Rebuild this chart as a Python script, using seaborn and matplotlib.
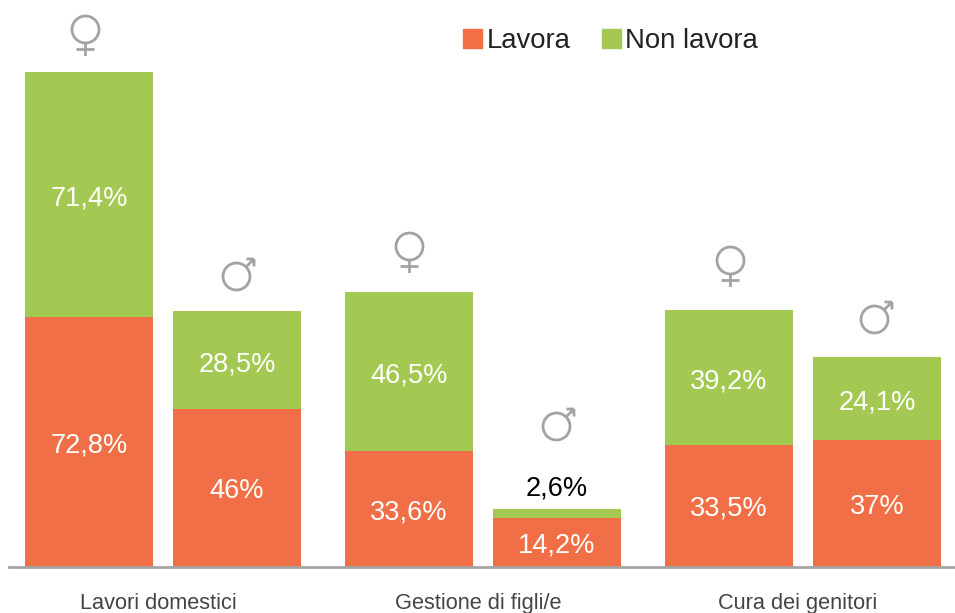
import pandas as pd
import seaborn as sns
import matplotlib.pyplot as plt
from matplotlib.patches import Patch
from matplotlib.path import Path
from matplotlib.transforms import ScaledTranslation, offset_copy

# ---- Data ----
categories = ["Lavori domestici", "Gestione di figli/e", "Cura dei genitori"]
sexes = ["F", "M"]

# bar heights, the third "F" bar is drawn taller than its 33,5% label
lavora_f = [72.8, 33.8, 35.6]
lavora_m = [46.0, 14.2, 37.0]
non_lavora_f = [71.4, 46.5, 39.2]
non_lavora_m = [28.5, 2.6, 24.1]

lavora_labels = {"F": ["72,8%", "33,6%", "33,5%"], "M": ["46%", "14,2%", "37%"]}
non_lavora_labels = {"F": ["71,4%", "46,5%", "39,2%"], "M": ["28,5%", "2,6%", "24,1%"]}

ORANGE = "#F06F46"
GREEN = "#A4C952"
GREY = "#A3A3A3"

df = pd.DataFrame({
    "categoria": categories * 2,
    "sesso": ["F"] * 3 + ["M"] * 3,
    "lavora": lavora_f + lavora_m,
    "non_lavora": non_lavora_f + non_lavora_m,
})
df["totale"] = df["lavora"] + df["non_lavora"]

sns.set_theme(style="white")
plt.rcParams["font.family"] = ["Liberation Sans", "DejaVu Sans"]

W, H = 955, 613
fig = plt.figure(figsize=(W / 100, H / 100), dpi=100)
ax = fig.add_axes([9 / W, (H - 567) / H, (W - 9) / W, 567 / H])

# ---- Stacked bars: totals in green, orange part on top ----
common = dict(data=df, x="categoria", hue="sesso", order=categories, hue_order=sexes,
              width=0.925, gap=0.135, legend=False, ax=ax, saturation=1, linewidth=0)
sns.barplot(y="totale", palette={"F": GREEN, "M": GREEN}, **common)
sns.barplot(y="lavora", palette={"F": ORANGE, "M": ORANGE}, **common)

ax.set_xlim((9 - 163) / 320, (955 - 163) / 320)
ax.set_ylim(0, 567 / 3.43)

# ---- Sex icons, drawn as markers (sizes in pixels around the circle centre) ----
def icon(segments, r):
    circle = Path.circle((0, 0), r)
    parts = [circle] + [Path(s) for s in segments]
    return Path.make_compound_path(*parts)

female = icon([[(0, -13.5), (0, -26.5)], [(-9, -20), (9, -20)]], 13.5)
male = icon([[(9.5, 9.5), (17, 17)], [(10, 17.5), (17.5, 17.5)], [(17.5, 17.5), (17.5, 10)]], 13.5)
icons = {"F": (female, 26.5), "M": (male, 17.5)}
# pixel offsets of each icon from the top centre of its bar
icon_shift = {"F": [(-4, 43), (0, 46), (1, 50)], "M": [(-1, 35), (-1, 83), (-3, 38)]}

# ---- Value labels and icons ----
label_kw = dict(textcoords="offset points", fontsize=19.6, ha="center")
for i, sex in enumerate(sexes):
    top_bars = ax.containers[i]
    low_bars = ax.containers[i + 2]
    for j, (top, low) in enumerate(zip(top_bars, low_bars)):
        xc = top.get_x() + top.get_width() / 2
        h_low = low.get_height()
        h_tot = top.get_height()
        ax.annotate(lavora_labels[sex][j], (xc, h_low / 2), xytext=(0, 0), color="white",
                    va="center_baseline", **label_kw)
        if h_tot - h_low < 5:
            ax.annotate(non_lavora_labels[sex][j], (xc, h_tot), xytext=(0, 6), color="black",
                        va="bottom", **label_kw)
        else:
            ax.annotate(non_lavora_labels[sex][j], (xc, (h_low + h_tot) / 2), xytext=(0, -0.5),
                        color="white", va="center_baseline", **label_kw)
        path, extent = icons[sex]
        dx, dy = icon_shift[sex][j]
        tr = offset_copy(ax.transData, fig=fig, x=dx, y=dy, units="dots")
        ax.plot([xc], [h_tot], marker=path, ms=2 * extent * 0.72, mfc="none", mec=GREY,
                mew=2.0, ls="none", transform=tr, clip_on=False)

# ---- Axes ----
sns.despine(ax=ax, left=True)
ax.spines["bottom"].set_color(GREY)
ax.spines["bottom"].set_linewidth(2)
ax.set_xlabel("")
ax.set_ylabel("")
ax.set_yticks([])
ax.tick_params(axis="x", length=0, pad=19)
ax.set_xticks(range(3), categories, fontsize=15.7, color="#444444")
shift = ScaledTranslation(-5 / 100, 0, fig.dpi_scale_trans)
for lab in ax.get_xticklabels():
    lab.set_transform(lab.get_transform() + shift)

# ---- Legend ----
handles = [Patch(color=ORANGE, label="Lavora"), Patch(color=GREEN, label="Non lavora")]
fig.legend(handles=handles, loc="center left", bbox_to_anchor=(441 / W, 1 - 41 / H), ncol=2,
           frameon=False, fontsize=19.8, handlelength=0.7, handleheight=0.7,
           handletextpad=0.15, columnspacing=1.15, borderpad=0.3, labelcolor="#222222")

fig.savefig("out.png", dpi=100)
